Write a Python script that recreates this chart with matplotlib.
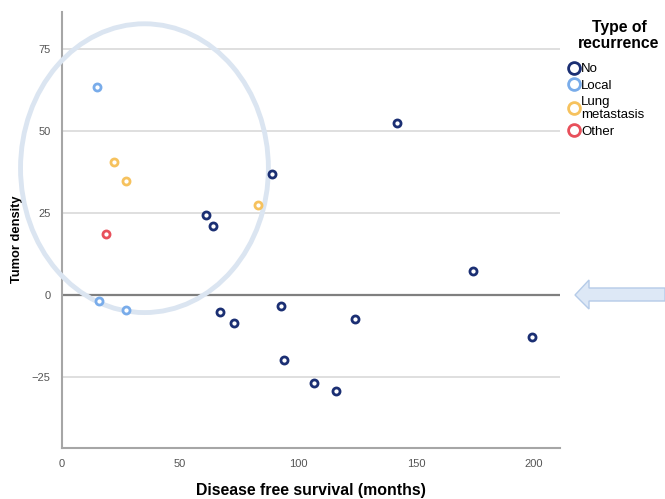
import matplotlib
matplotlib.use("Agg")
import matplotlib.pyplot as plt
from matplotlib.patches import Ellipse, Polygon
from matplotlib.lines import Line2D

plt.rcParams['font.family'] = ['Liberation Sans', 'DejaVu Sans']

# values
no_dfs = [89, 142, 61, 64, 174, 67, 73, 93, 124, 94, 107, 116, 199]
no_density = [37, 52.5, 24.5, 21, 7.3, -5, -8.5, -3.4, -7.3, -19.8, -26.8, -29.3, -12.8]
local_dfs = [15, 15.6, 27]
local_density = [63.4, -1.8, -4.6]
lung_dfs = [22, 27, 83]
lung_density = [40.5, 34.8, 27.4]
other_dfs = [18.6]
other_density = [18.6]

groups = ["No", "Local", "Lung\nmetastasis", "Other"]
colors = ["#1b2f73", "#79acea", "#f6c25e", "#e8505b"]
xticks = [0, 50, 100, 150, 200]
yticks = [-25, 0, 25, 50, 75]

fig = plt.figure(figsize=(6.65, 4.99), dpi=100)
ax = fig.add_axes([0.093, 0.102, 0.749, 0.874])

# grid and reference line
for y in yticks:
    ax.axhline(y, color="#d9d9d9", lw=1.2, zorder=0)
ax.axhline(0, color="#7f7f7f", lw=1.6, zorder=1)

data = [(no_dfs, no_density), (local_dfs, local_density),
        (lung_dfs, lung_density), (other_dfs, other_density)]
for (xs, ys), c in zip(data, colors):
    ax.scatter(xs, ys, s=26, facecolors="white", edgecolors=c, linewidths=2, zorder=3)

# highlight circle
ax.add_patch(Ellipse((35, 38.7), 105, 88, fill=False, ec="#dbe5f1", lw=3.5,
                     zorder=2.8, clip_on=False))

ax.set_xlim(0, 211)
ax.set_ylim(-46.6, 86.3)
ax.set_xticks(xticks)
ax.set_yticks(yticks)
ax.tick_params(length=0, labelsize=8, colors="#555555", pad=8)
for s in ["top", "right"]:
    ax.spines[s].set_visible(False)
for s in ["left", "bottom"]:
    ax.spines[s].set_color("#a6a6a6")
    ax.spines[s].set_linewidth(1.5)

ax.set_xlabel("Disease free survival (months)", fontsize=11.4, fontweight="bold")
ax.xaxis.set_label_coords(0.5, -0.08)
ax.set_ylabel("Tumor density", fontsize=9.3, fontweight="bold")
ax.yaxis.set_label_coords(-0.09, 0.479)
ax.yaxis.label.set_va("center")

# legend: title as separate text so it can sit centred like the original
fig.text(619 / 665, 1 - 20 / 499, "Type of\nrecurrence", ha="center", va="top",
         fontsize=11.3, fontweight="bold", linespacing=1.05)
handles = [Line2D([], [], ls="", marker="o", ms=8.5, mfc="white", mec=c, mew=2)
           for c in colors]
leg = fig.legend(handles, groups, loc="upper left",
                 bbox_to_anchor=(0.844, 1 - 54 / 499), frameon=False, fontsize=9.5,
                 handlelength=0.5, handletextpad=0.3, labelspacing=0.3,
                 borderpad=0.2)

# arrow pointing at the zero line
W, H = 665, 499
pts = [(575, 295), (589, 280), (589, 288), (665, 288),
       (665, 301), (589, 301), (589, 309)]
arrow = Polygon([(px / W, 1 - py / H) for px, py in pts], closed=True,
                transform=fig.transFigure, fc="#dde8f6", ec="#b5cbe8", lw=1)
fig.patches.append(arrow)

fig.savefig("out.png", dpi=100)
